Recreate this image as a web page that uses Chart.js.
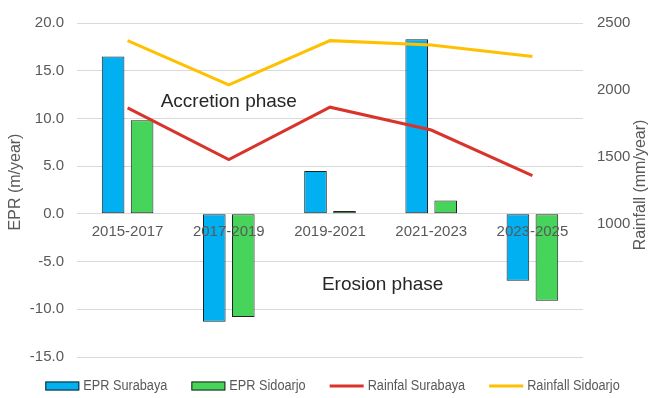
<!DOCTYPE html>
<html><head><meta charset="utf-8">
<script src="https://cdn.jsdelivr.net/npm/chart.js@4.4.1/dist/chart.umd.min.js"></script>
<style>html,body{margin:0;padding:0;background:#fff}#wrap{width:655px;height:398px}</style>
</head><body><div id="wrap"><canvas id="c" width="655" height="398"></canvas></div>
<script>
const categories = ['2015-2017', '2017-2019', '2019-2021', '2021-2023', '2023-2025'];
const eprSurabaya = [16.5, -11.3, 4.5, 18.3, -7.0];
const eprSidoarjo = [9.8, -10.8, 0.3, 1.4, -9.1];
const rainfallSurabaya = [1865, 1478, 1870, 1699, 1358];
const rainfallSidoarjo = [2368, 2037, 2368, 2336, 2250];
const eprAxis = { min: -15, max: 20, step: 5 };
const rainAxis = { min: 0, max: 2500, step: 500, firstLabel: 1000 };
const seriesNames = ['EPR Surabaya', 'EPR Sidoarjo', 'Rainfal Surabaya', 'Rainfall Sidoarjo'];
const phaseLabels = [
  { text: 'Accretion phase', cat: 1, epr: 11.7 },
  { text: 'Erosion phase', cat: 2.52, epr: -7.4 }
];

const COL = { blue: '#00B0F0', green: '#47D45A', red: '#D9342B', yellow: '#FFC000', grid: '#D9D9D9', text: '#595959' };
const TICK_FONT = { family: '"Liberation Sans", Arial, sans-serif', size: 15 };

const overlay = {
  id: 'overlay',
  afterDatasetsDraw(chart) {
    const ctx = chart.ctx, x = chart.scales.x, y = chart.scales.y;
    ctx.save();
    ctx.fillStyle = '#262626';
    ctx.font = '19px "Liberation Sans", Arial, sans-serif';
    ctx.textAlign = 'center'; ctx.textBaseline = 'middle';
    phaseLabels.forEach(p => ctx.fillText(p.text, x.getPixelForValue(p.cat), y.getPixelForValue(p.epr)));
    ctx.restore();
  },
  afterDraw(chart) {
    const ctx = chart.ctx;
    ctx.save();
    // axis titles
    ctx.fillStyle = COL.text;
    ctx.font = '16px "Liberation Sans", Arial, sans-serif';
    ctx.textAlign = 'center'; ctx.textBaseline = 'middle';
    ctx.save(); ctx.translate(16, 182); ctx.rotate(-Math.PI / 2); ctx.fillText('EPR (m/year)', 0, 0); ctx.restore();
    ctx.save(); ctx.translate(641, 185); ctx.rotate(-Math.PI / 2); ctx.fillText('Rainfall (mm/year)', 0, 0); ctx.restore();
    // legend (condensed text)
    const ds = chart.data.datasets;
    const order = [0, 1, 2, 3];
    const squeeze = 0.82;
    ctx.font = '15.5px "Liberation Sans", Arial, sans-serif';
    const boxW = 34, gap = 4, itemGap = 24;
    const widths = order.map(i => boxW + gap + ctx.measureText(ds[i].label).width * squeeze);
    const total = widths.reduce((s, w) => s + w, 0) + itemGap * (order.length - 1);
    let cx = 332.5 - total / 2;
    const cy = 386;
    ctx.textAlign = 'left';
    order.forEach((i, k) => {
      const d = ds[i];
      if (d.type === 'bar') {
        ctx.fillStyle = d.backgroundColor;
        ctx.fillRect(cx, cy - 4.5, boxW, 9);
        ctx.strokeStyle = '#222'; ctx.lineWidth = 1;
        ctx.strokeRect(cx + 0.5, cy - 4, boxW - 1, 8);
      } else {
        ctx.strokeStyle = d.borderColor; ctx.lineWidth = 3;
        ctx.beginPath(); ctx.moveTo(cx, cy); ctx.lineTo(cx + boxW, cy); ctx.stroke();
      }
      ctx.fillStyle = COL.text;
      ctx.save();
      ctx.translate(cx + boxW + gap, cy);
      ctx.scale(squeeze, 1);
      ctx.fillText(d.label, 0, 0);
      ctx.restore();
      cx += widths[k] + itemGap;
    });
    ctx.restore();
  }
};

const barBase = { type: 'bar', borderColor: '#222', borderWidth: 1, borderSkipped: false, categoryPercentage: 0.573, barPercentage: 0.78, yAxisID: 'y', order: 2 };
const lineBase = { type: 'line', borderWidth: 3, pointRadius: 0, tension: 0, fill: false, yAxisID: 'y1', order: 1 };

new Chart(document.getElementById('c'), {
  data: {
    labels: categories,
    datasets: [
      Object.assign({}, barBase, { label: seriesNames[0], data: eprSurabaya, backgroundColor: COL.blue }),
      Object.assign({}, barBase, { label: seriesNames[1], data: eprSidoarjo, backgroundColor: COL.green }),
      Object.assign({}, lineBase, { label: seriesNames[2], data: rainfallSurabaya, borderColor: COL.red, backgroundColor: COL.red }),
      Object.assign({}, lineBase, { label: seriesNames[3], data: rainfallSidoarjo, borderColor: COL.yellow, backgroundColor: COL.yellow })
    ]
  },
  options: {
    responsive: false,
    animation: false,
    devicePixelRatio: 1,
    layout: { padding: { left: 0, right: 0, top: 17, bottom: 41 } },
    plugins: { legend: { display: false }, tooltip: { enabled: false } },
    scales: {
      x: {
        position: { y: 0 },
        grid: { display: false, drawTicks: false },
        border: { display: false },
        ticks: { color: COL.text, font: TICK_FONT, padding: 9, maxRotation: 0, autoSkip: false, z: 1 }
      },
      y: {
        position: 'left',
        min: eprAxis.min, max: eprAxis.max,
        grid: { color: COL.grid, lineWidth: 1, drawTicks: false },
        border: { display: false },
        ticks: { stepSize: eprAxis.step, color: COL.text, font: TICK_FONT, padding: 13, callback: v => Number(v).toFixed(1) },
        afterFit: s => { s.width = 77; }
      },
      y1: {
        position: 'right',
        min: rainAxis.min, max: rainAxis.max,
        grid: { display: false, drawTicks: false },
        border: { display: false },
        ticks: { stepSize: rainAxis.step, color: COL.text, font: TICK_FONT, padding: 14, callback: v => (v >= rainAxis.firstLabel ? String(v) : '') },
        afterFit: s => { s.width = 72; }
      }
    }
  },
  plugins: [overlay]
});
</script>
</body></html>
